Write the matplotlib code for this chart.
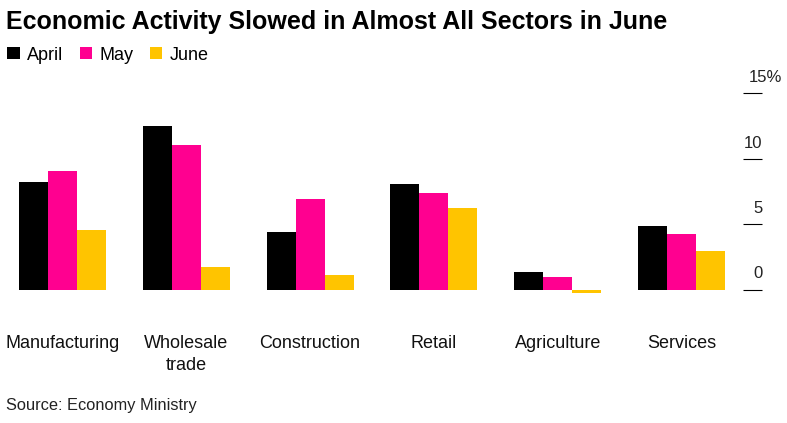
import matplotlib.pyplot as plt
from matplotlib.patches import Patch
import numpy as np
import matplotlib.transforms as mtransforms

# ==============================
# DATA
# ==============================

sectors = ["Manufacturing", "Wholesale\ntrade", "Construction", "Retail", "Agriculture", "Services"]
april = [8.25, 12.5, 4.4, 8.1, 1.35, 4.85]
may = [9.05, 11.05, 6.9, 7.4, 0.93, 4.25]
june = [4.55, 1.75, 1.15, 6.2, -0.3, 2.95]

months = ["April", "May", "June"]
colors = ["#000000", "#ff0090", "#ffc400"]
yticks = [0, 5, 10, 15]
ytick_labels = ["0", "5", "10", "15%"]

plt.rcParams["font.family"] = ["Liberation Sans", "DejaVu Sans"]

# ==============================
# PLOT
# ==============================

fig = plt.figure(figsize=(7.87, 4.23), dpi=100)
ax = fig.add_axes([4 / 787, 1 - 300 / 423, 758 / 787, 220 / 423])

x = np.arange(len(sectors))
w = 0.234
for i, (vals, c) in enumerate(zip([april, may, june], colors)):
    ax.bar(x + (i - 1) * w, vals, width=w, color=c, linewidth=0)

ax.set_xlim(-0.4725, 5.65)
ax.set_ylim(-0.8, 16.03)

for s in ax.spines.values():
    s.set_visible(False)
ax.set_xticks([])
ax.set_yticks(yticks)
ax.yaxis.tick_right()
ax.tick_params(axis="y", direction="in", length=14, width=0.8, color="#000000",
               labelright=False, right=True, left=False, pad=0)

# y tick labels sit above the tick marks
trans = mtransforms.blended_transform_factory(ax.transAxes, ax.transData)
for v, lab in zip(yticks, ytick_labels):
    ax.text(1.0005 if lab != "15%" else 1.026, v + 1.2, lab, transform=trans,
            ha="right", va="center", fontsize=12, color="#222222")

# category labels
for xi, name in zip(x, sectors):
    ax.text(xi, -3.45, name, ha="center", va="top", fontsize=13,
            linespacing=1.45, color="#111111")

fig.text(6 / 787, 1 - 22 / 423, "Economic Activity Slowed in Almost All Sectors in June",
         fontsize=18, fontweight="bold", va="center", ha="left")

handles = [Patch(facecolor=c, edgecolor="none") for c in colors]
fig.legend(handles, months, loc="center left", bbox_to_anchor=(0 / 787, 1 - 55 / 423),
           ncol=3, frameon=False, fontsize=13, handlelength=0.7, handleheight=0.7,
           handletextpad=0.4, columnspacing=0.9, borderaxespad=0)

fig.text(6 / 787, 1 - 405 / 423, "Source: Economy Ministry", fontsize=11.8,
         va="center", ha="left", color="#222222")

plt.savefig("out.png", dpi=100)
plt.close()
